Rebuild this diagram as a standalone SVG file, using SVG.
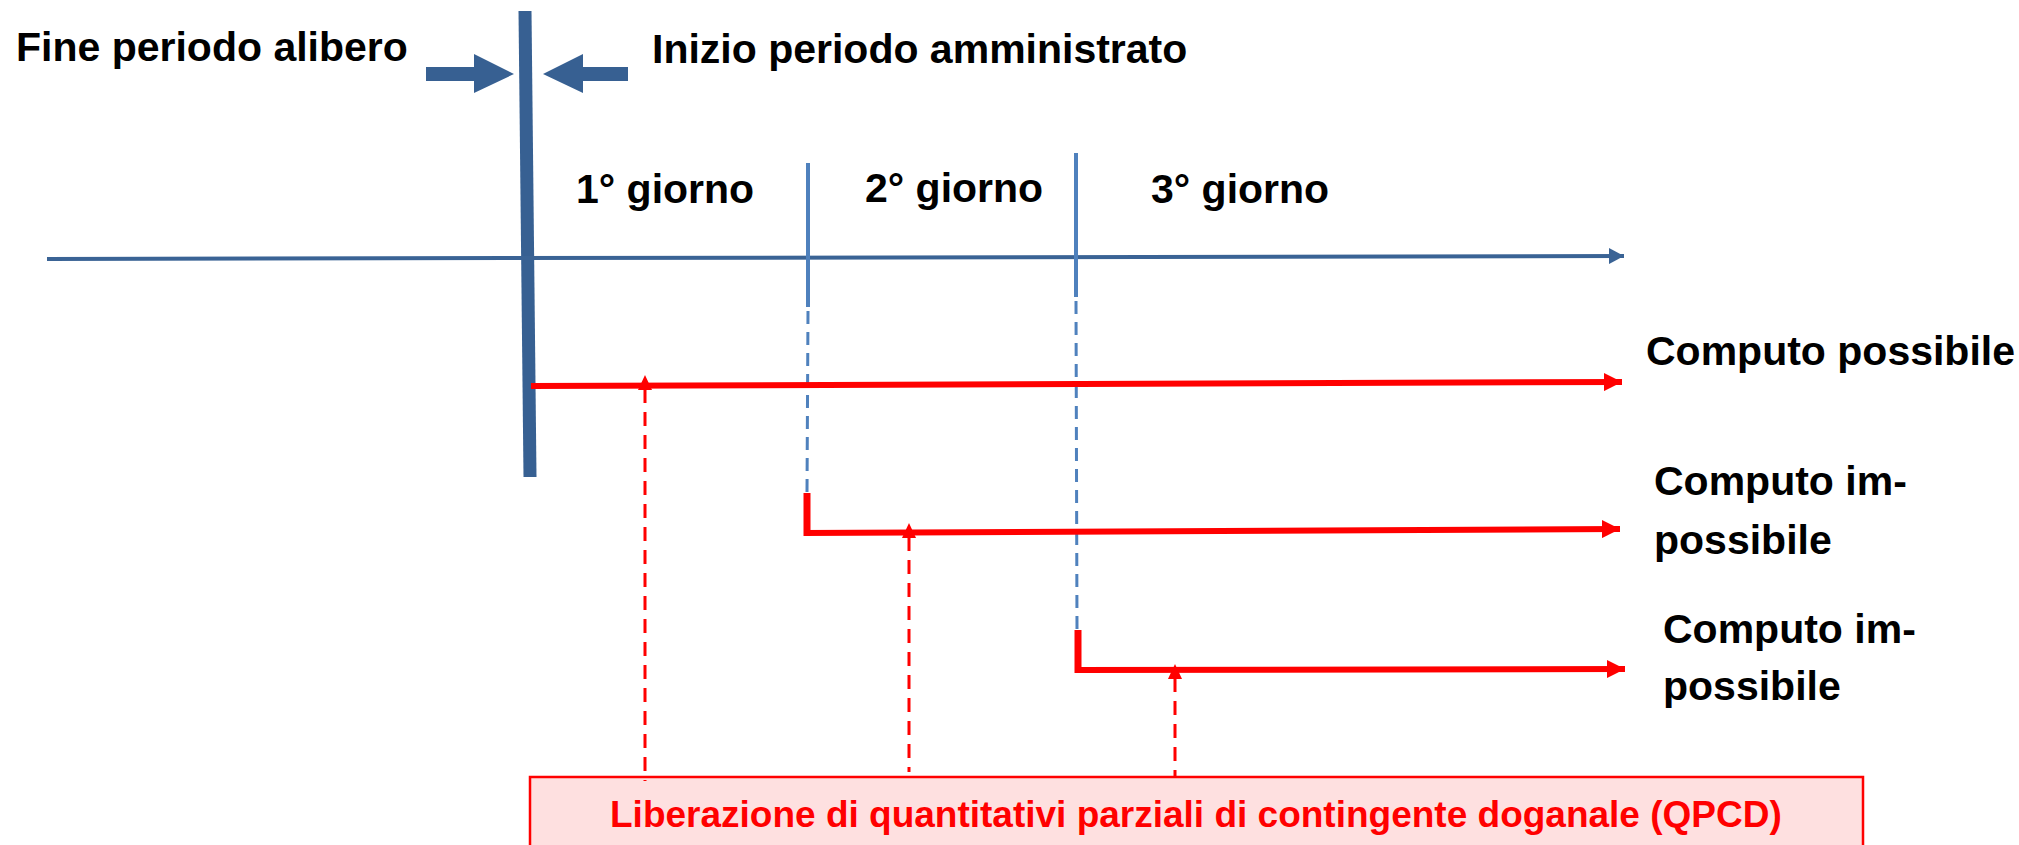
<svg xmlns="http://www.w3.org/2000/svg" width="2019" height="845" viewBox="0 0 2019 845">
  <style>
    .lbl { font-family: "Liberation Sans", Arial, sans-serif; font-weight: bold; font-size: 41px; fill: #000; }
    .red-lbl { font-family: "Liberation Sans", Arial, sans-serif; font-weight: bold; font-size: 37px; fill: #FF0000; }
    .axis { stroke: #3A6395; stroke-width: 4; fill: none; }
    .day { stroke: #4F81BD; stroke-width: 4; fill: none; }
    .daydash { stroke: #4F81BD; stroke-width: 3; stroke-dasharray: 13 8; fill: none; }
    .path-red { stroke: #FF0000; stroke-width: 6; fill: none; }
    .stub-red { stroke: #FF0000; stroke-width: 7; fill: none; }
    .rel-red { stroke: #FF0000; stroke-width: 3; stroke-dasharray: 14 9; fill: none; }
    .blue-fill { fill: #376092; }
  </style>
  <defs>
    <marker id="axisHead" markerUnits="userSpaceOnUse" markerWidth="16" markerHeight="16" refX="15" refY="8" orient="auto">
      <polygon points="0,0 15,8 0,16" fill="#3A6395"/>
    </marker>
    <marker id="redHead" markerUnits="userSpaceOnUse" markerWidth="19" markerHeight="18" refX="18" refY="9" orient="auto">
      <polygon points="0,0 18,9 0,18" fill="#FF0000"/>
    </marker>
    <marker id="upHead" markerUnits="userSpaceOnUse" markerWidth="16" markerHeight="16" refX="15" refY="7" orient="auto">
      <polygon points="0,0 15,7 0,14" fill="#FF0000"/>
    </marker>
  </defs>

  <!-- Titles with converging arrows -->
  <g id="fine-periodo">
    <text class="lbl" x="16" y="61" font-size="41.5">Fine periodo alibero</text>
    <polygon class="blue-fill" points="426,67 474,67 474,54 514,74 474,93 474,81 426,81"/>
  </g>
  <g id="inizio-periodo">
    <text class="lbl" x="652" y="63" font-size="42">Inizio periodo amministrato</text>
    <polygon class="blue-fill" points="628,67 583,67 583,54 543,74 583,93 583,81 628,81"/>
  </g>
  <g id="separatore">
    <line x1="525" y1="11" x2="530" y2="477" stroke="#376092" stroke-width="13"/>
  </g>

  <!-- Timeline -->
  <g id="timeline">
    <line class="axis" x1="47" y1="259" x2="1624" y2="256" marker-end="url(#axisHead)"/>
  </g>
  <g id="giorno-1">
    <text class="lbl" x="576" y="203">1° giorno</text>
  </g>
  <g id="divisore-1">
    <line class="day" x1="808" y1="163" x2="808" y2="307"/>
  </g>
  <g id="giorno-2">
    <text class="lbl" x="865" y="202">2° giorno</text>
  </g>
  <g id="divisore-2">
    <line class="day" x1="1076" y1="153" x2="1076" y2="297"/>
  </g>
  <g id="giorno-3">
    <text class="lbl" x="1151" y="203">3° giorno</text>
  </g>

  <!-- Outcomes -->
  <g id="computo-possibile">
    <text class="lbl" x="1646" y="365" font-size="40.5">Computo possibile</text>
  </g>
  <g id="computo-impossibile-2">
    <text class="lbl" x="1654" y="495">Computo im-</text>
    <text class="lbl" x="1654" y="554">possibile</text>
  </g>
  <g id="computo-impossibile-3">
    <text class="lbl" x="1663" y="643">Computo im-</text>
    <text class="lbl" x="1663" y="700">possibile</text>
  </g>

  <!-- Release box -->
  <g id="liberazione-qpcd">
    <rect x="530" y="777" width="1333" height="80" fill="#FEE0E0" stroke="#FF0000" stroke-width="2.5"/>
    <text class="red-lbl" x="610" y="827">Liberazione di quantitativi parziali di contingente doganale (QPCD)</text>
  </g>

  <!-- Connectors -->
  <g id="connectors">
    <line class="daydash" x1="808" y1="311" x2="807" y2="493"/>
    <line class="daydash" x1="1076" y1="301" x2="1077" y2="630"/>

    <line class="path-red" x1="531" y1="386" x2="1622" y2="382" marker-end="url(#redHead)"/>

    <line class="stub-red" x1="807" y1="493" x2="807" y2="536"/>
    <line class="path-red" x1="804" y1="533" x2="1620" y2="529" marker-end="url(#redHead)"/>

    <line class="stub-red" x1="1078" y1="630" x2="1078" y2="673"/>
    <line class="path-red" x1="1075" y1="670" x2="1625" y2="669" marker-end="url(#redHead)"/>

    <line class="rel-red" x1="645" y1="389" x2="645" y2="781"/>
    <polygon points="645,375 652,390 638,390" fill="#FF0000"/>
    <line class="rel-red" x1="909" y1="537" x2="909" y2="772"/>
    <polygon points="909,523 916,538 902,538" fill="#FF0000"/>
    <line class="rel-red" x1="1175" y1="678" x2="1175" y2="778"/>
    <polygon points="1175,664 1182,679 1168,679" fill="#FF0000"/>
  </g>
</svg>
